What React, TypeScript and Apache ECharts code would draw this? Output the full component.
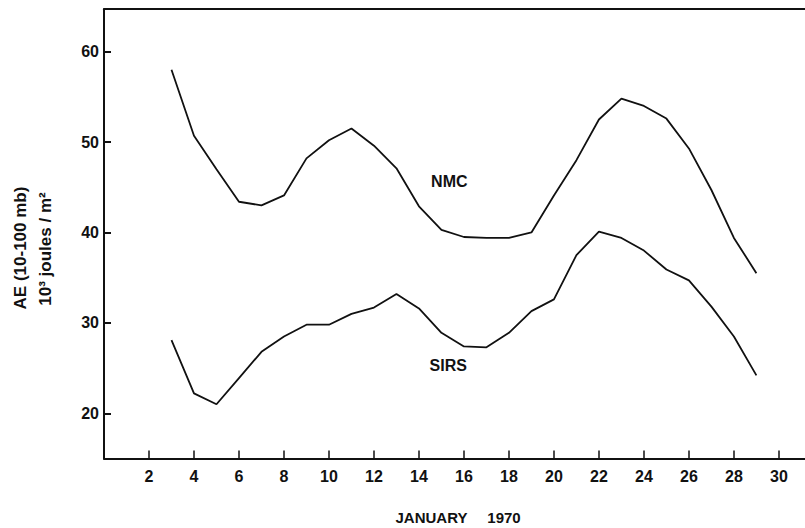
import React, { useEffect, useRef } from "react";
import * as echarts from "echarts";

const days = [3, 4, 5, 6, 7, 8, 9, 10, 11, 12, 13, 14, 15, 16, 17, 18, 19, 20, 21, 22, 23, 24, 25, 26, 27, 28, 29];
const nmc = [58.0, 50.7, 47.0, 43.4, 43.0, 44.1, 48.2, 50.2, 51.5, 49.6, 47.1, 42.9, 40.3, 39.5, 39.4, 39.4, 40.0, 44.1, 48.0, 52.5, 54.8, 54.0, 52.6, 49.3, 44.7, 39.4, 35.5];
const sirs = [28.1, 22.2, 21.0, 23.9, 26.8, 28.5, 29.8, 29.8, 31.0, 31.7, 33.2, 31.6, 28.9, 27.4, 27.3, 28.9, 31.3, 32.6, 37.5, 40.1, 39.4, 38.0, 35.9, 34.7, 31.8, 28.5, 24.2];
const xTicks = [2, 4, 6, 8, 10, 12, 14, 16, 18, 20, 22, 24, 26, 28, 30];
const yTicks = [20, 30, 40, 50, 60];
const nmcLabelAt = [15.35, 45.6];
const sirsLabelAt = [15.3, 25.3];

const FONT = "'Liberation Sans', Arial, sans-serif";

export default function App() {
  const ref = useRef<HTMLDivElement>(null);
  useEffect(() => {
    document.body.style.margin = "0";
    const chart = echarts.init(ref.current!, null, { renderer: "svg" });
    const lineStyle = { color: "#111", width: 1.8 };
    const seriesLabel = (name: string, at: number[]) => ({
      silent: true,
      symbol: "circle",
      symbolSize: 0,
      data: [{ coord: at, value: name }],
      label: {
        show: true,
        position: "inside",
        formatter: name,
        color: "#111",
        fontSize: 16,
        fontWeight: "bold",
        fontFamily: FONT,
      },
    });
    chart.setOption({
      animation: false,
      backgroundColor: "#fff",
      grid: { left: 104, right: 0, top: 9.2, bottom: 69.5 },
      xAxis: [
        {
          type: "value",
          min: 0,
          max: 31.16,
          position: "bottom",
          axisLine: { show: true, lineStyle: { color: "#111", width: 2 } },
          axisTick: { show: true, inside: true, length: 8, customValues: xTicks, lineStyle: { color: "#111", width: 1.5 } },
          axisLabel: {
            show: true,
            customValues: xTicks,
            margin: 10,
            color: "#111",
            fontSize: 16,
            fontWeight: "bold",
            fontFamily: FONT,
          },
          splitLine: { show: false },
        },
        {
          type: "value",
          min: 0,
          max: 31.16,
          position: "top",
          axisLine: { show: true, lineStyle: { color: "#111", width: 2 } },
          axisTick: { show: false },
          axisLabel: { show: false },
          splitLine: { show: false },
        },
      ],
      yAxis: {
        type: "value",
        min: 15,
        max: 64.7,
        axisLine: { show: true, lineStyle: { color: "#111", width: 2 } },
        axisTick: { show: true, inside: true, length: 7, customValues: yTicks, lineStyle: { color: "#111", width: 2 } },
        axisLabel: {
          show: true,
          customValues: yTicks,
          margin: 5,
          color: "#111",
          fontSize: 16,
          fontWeight: "bold",
          fontFamily: FONT,
        },
        splitLine: { show: false },
      },
      series: [
        {
          name: "NMC",
          type: "line",
          data: days.map((d, i) => [d, nmc[i]]),
          showSymbol: false,
          lineStyle,
          markPoint: seriesLabel("NMC", nmcLabelAt),
        },
        {
          name: "SIRS",
          type: "line",
          data: days.map((d, i) => [d, sirs[i]]),
          showSymbol: false,
          lineStyle,
          markPoint: seriesLabel("SIRS", sirsLabelAt),
        },
      ],
      graphic: [
        {
          type: "text",
          x: 20,
          y: 248,
          rotation: Math.PI / 2,
          style: {
            text: "AE (10-100 mb)",
            fill: "#111",
            font: `bold 17px ${FONT}`,
            align: "center",
            verticalAlign: "middle",
          },
        },
        {
          type: "text",
          x: 45,
          y: 249,
          rotation: Math.PI / 2,
          style: {
            text: "10³ joules / m²",
            fill: "#111",
            font: `bold 17px ${FONT}`,
            align: "center",
            verticalAlign: "middle",
          },
        },
        {
          type: "text",
          x: 431.5,
          y: 517,
          style: {
            text: "JANUARY",
            fill: "#111",
            font: `bold 15px ${FONT}`,
            align: "center",
            verticalAlign: "middle",
          },
        },
        {
          type: "text",
          x: 504,
          y: 517,
          style: {
            text: "1970",
            fill: "#111",
            font: `bold 15px ${FONT}`,
            align: "center",
            verticalAlign: "middle",
          },
        },
      ],
    });
    return () => chart.dispose();
  }, []);
  return <div ref={ref} style={{ width: 805, height: 528 }} />;
}
